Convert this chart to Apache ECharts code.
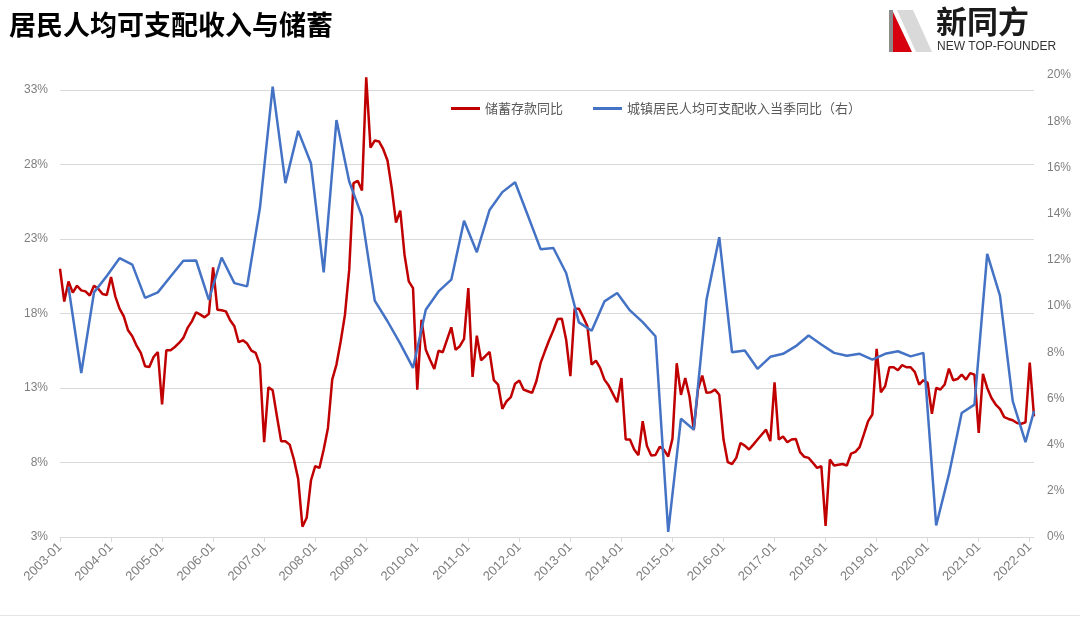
<!DOCTYPE html>
<html>
<head>
<meta charset="utf-8">
<script src="https://cdn.jsdelivr.net/npm/echarts@6/dist/echarts.min.js"></script>
<style>
html,body{margin:0;padding:0;background:#fff;}
#chart{width:1080px;height:617px;}
</style>
</head>
<body>
<div id="chart"></div>
<script>
// ---- DATA ----
var chartTitle = '居民人均可支配收入与储蓄';
var seriesNames = ['储蓄存款同比', '城镇居民人均可支配收入当季同比（右）'];
var startYear = 2003, endYear = 2022, endMonth = 2; // monthly axis 2003-01 .. 2022-02

// 储蓄存款同比 (%), monthly from 2003-01
var depositYoY = [
  21.0, 18.8, 20.15, 19.4, 19.86, 19.55, 19.48, 19.2, 19.86, 19.66, 19.3, 19.24,
  20.44, 19.15, 18.32, 17.8, 16.87, 16.47, 15.84, 15.35, 14.46, 14.41, 15.08, 15.4,
  11.89, 15.53, 15.53, 15.75, 16.02, 16.36, 17.03, 17.47, 18.08, 17.92, 17.74, 17.97,
  21.09, 18.25, 18.21, 18.14, 17.54, 17.14, 16.07, 16.2, 15.98, 15.5, 15.35, 14.57,
  9.36, 13.05, 12.85, 11.1, 9.43, 9.43, 9.2, 8.2, 6.9, 3.69, 4.29, 6.79,
  7.75, 7.64, 8.87, 10.32, 13.56, 14.57, 16.13, 17.92, 20.94, 26.74, 26.9, 26.25,
  33.85, 29.13, 29.6, 29.54, 29.02, 28.26, 26.4, 24.1, 24.9, 21.94, 20.15, 19.7,
  12.89, 17.58, 15.57, 14.9, 14.28, 15.5, 15.4, 16.24, 17.07, 15.57, 15.8, 16.29,
  19.7, 13.74, 16.51, 14.86, 15.13, 15.42, 13.52, 13.23, 11.6, 12.11, 12.38, 13.29,
  13.5, 12.89, 12.78, 12.67, 13.45, 14.68, 15.46, 16.2, 16.87, 17.63, 17.65, 16.24,
  13.79, 18.32, 18.32, 17.76, 17.14, 14.57, 14.84, 14.35, 13.56, 13.16, 12.6, 12.04,
  13.67, 9.54, 9.54, 8.87, 8.49, 10.77, 9.1, 8.47, 8.5, 9.05, 8.85, 8.4,
  9.6, 14.66, 12.54, 13.67, 12.43, 10.17, 12.9, 13.83, 12.67, 12.71, 12.89, 12.54,
  9.54, 8.02, 7.9, 8.31, 9.31, 9.13, 8.87, 9.2, 9.54, 9.88, 10.2, 9.43,
  13.38, 9.54, 9.75, 9.36, 9.54, 9.58, 8.7, 8.38, 8.31, 7.98, 7.64, 7.75,
  3.74, 8.2, 7.8, 7.85, 7.9, 7.8, 8.6, 8.71, 9.03, 9.88, 10.77, 11.22,
  15.62, 12.71, 13.12, 14.39, 14.39, 14.19, 14.53, 14.39, 14.39, 14.06, 13.23, 13.52,
  13.34, 11.26, 13.0, 12.9, 13.23, 14.3, 13.52, 13.6, 13.9, 13.56, 14.0, 13.9,
  9.99, 13.95, 13.0, 12.33, 11.89, 11.6, 11.04, 10.92, 10.83, 10.65, 10.6, 10.69,
  14.71, 11.1
];

// 城镇居民人均可支配收入当季同比 (%), quarterly
var incomeMonths = [
  '2003-03','2003-06','2003-09','2003-12','2004-03','2004-06','2004-09','2004-12',
  '2005-03','2005-06','2005-09','2005-12','2006-03','2006-06','2006-09','2006-12',
  '2007-03','2007-06','2007-09','2007-12','2008-03','2008-06','2008-09','2008-12',
  '2009-03','2009-06','2009-09','2009-12','2010-03','2010-06','2010-09','2010-12',
  '2011-03','2011-06','2011-09','2011-12','2012-03','2012-06','2012-09','2012-12',
  '2013-03','2013-06','2013-09','2013-12','2014-03','2014-06','2014-09','2014-12',
  '2015-03','2015-06','2015-09','2015-12','2016-03','2016-06','2016-09','2016-12',
  '2017-03','2017-06','2017-09','2017-12','2018-03','2018-06','2018-09','2018-12',
  '2019-03','2019-06','2019-09','2019-12','2020-03','2020-06','2020-09','2020-12',
  '2021-03','2021-06','2021-09','2021-12','2022-02'
];
var incomeYoY = [
  10.82, 7.1, 10.59, 11.3, 12.07, 11.79, 10.35, 10.59,
  11.28, 11.96, 11.97, 10.27, 12.1, 10.99, 10.85, 14.24,
  19.5, 15.32, 17.58, 16.18, 11.46, 18.05, 15.39, 13.88,
  10.23, 9.34, 8.37, 7.32, 9.84, 10.63, 11.14, 13.69,
  12.33, 14.16, 14.93, 15.36, 13.92, 12.46, 12.51, 11.43,
  9.29, 8.93, 10.2, 10.56, 9.81, 9.3, 8.69, 0.22,
  5.12, 4.65, 10.27, 12.98, 8.0, 8.07, 7.28, 7.8,
  7.93, 8.26, 8.72, 8.33, 7.97, 7.85, 7.93, 7.68,
  7.93, 8.04, 7.82, 7.97, 0.5, 2.71, 5.37, 5.73,
  12.26, 10.45, 5.88, 4.11, 5.45
];

// axis settings
var leftAxisMin = 3, leftAxisMax = 34, leftAxisStep = 5;
var rightAxisMin = 0, rightAxisMax = 20, rightAxisStep = 2;

// ---- BUILD ----
var months = [];
for (var y = startYear; y <= endYear; y++) {
  for (var m = 1; m <= 12; m++) {
    if (y === endYear && m > endMonth) break;
    months.push(y + '-' + (m < 10 ? '0' + m : m));
  }
}
var incomeData = incomeMonths.map(function (mm, k) { return [mm, incomeYoY[k]]; });

var chart = echarts.init(document.getElementById('chart'), null, {renderer: 'canvas'});
var labelColor = '#7f7f7f';
var baseFont = 'Liberation Sans, Noto Sans CJK SC, sans-serif';

chart.setOption({
  animation: false,
  backgroundColor: '#ffffff',
  title: {
    text: chartTitle,
    left: 4,
    top: 6,
    textStyle: {fontSize: 27, fontWeight: 'bold', color: '#000', fontFamily: 'Noto Sans CJK SC'}
  },
  legend: {
    left: 446,
    top: 97,
    icon: 'rect',
    itemWidth: 29,
    itemHeight: 3,
    itemGap: 30,
    textStyle: {fontSize: 13, color: '#595959', fontFamily: 'Noto Sans CJK SC'},
    data: seriesNames
  },
  grid: {left: 60, right: 46, top: 75, bottom: 80, containLabel: false},
  xAxis: {
    type: 'category',
    boundaryGap: false,
    data: months,
    axisLine: {lineStyle: {color: '#d9d9d9', width: 1}},
    axisTick: {show: true, interval: 11, length: 5, lineStyle: {color: '#d9d9d9'}},
    axisLabel: {interval: 11, rotate: 45, color: labelColor, fontSize: 13, margin: 8, fontFamily: baseFont},
    splitLine: {show: false}
  },
  yAxis: [
    {
      type: 'value',
      min: leftAxisMin, max: leftAxisMax, interval: leftAxisStep,
      axisLine: {show: false}, axisTick: {show: false},
      axisLabel: {formatter: '{value}%', color: labelColor, fontSize: 12, margin: 12, showMaxLabel: false, fontFamily: baseFont},
      splitLine: {show: true, showMaxLine: false, showMinLine: false, lineStyle: {color: '#d9d9d9', width: 1}}
    },
    {
      type: 'value',
      min: rightAxisMin, max: rightAxisMax, interval: rightAxisStep,
      position: 'right',
      axisLine: {show: false}, axisTick: {show: false},
      axisLabel: {formatter: '{value}%', color: labelColor, fontSize: 12, margin: 13, fontFamily: baseFont},
      splitLine: {show: false}
    }
  ],
  series: [
    {
      name: seriesNames[0],
      type: 'line',
      yAxisIndex: 0,
      data: depositYoY,
      showSymbol: false,
      symbol: 'none',
      lineStyle: {color: '#c00000', width: 2.5},
      itemStyle: {color: '#c00000'}
    },
    {
      name: seriesNames[1],
      type: 'line',
      yAxisIndex: 1,
      data: incomeData,
      showSymbol: false,
      symbol: 'none',
      lineStyle: {color: '#4472c4', width: 2.5},
      itemStyle: {color: '#4472c4'}
    }
  ],
  graphic: [
    // logo shapes
    {type: 'rect', shape: {x: 889, y: 10, width: 4, height: 42}, style: {fill: '#8c8c8c'}},
    {type: 'polygon', shape: {points: [[893, 12], [893, 52], [912, 52]]}, style: {fill: '#d7000f'}},
    {type: 'polygon', shape: {points: [[897, 10], [913, 10], [932, 52], [916, 52]]}, style: {fill: '#d9d9d9'}},
    {type: 'text', left: 936, top: 6, style: {text: '新同方', font: 'bold 31px "Noto Sans CJK SC"', fill: '#1a1a1a'}},
    {type: 'text', left: 937, top: 41, style: {text: 'NEW TOP-FOUNDER', font: '12px "Liberation Sans Narrow", "Liberation Sans", sans-serif', fill: '#333'}},
    // bottom border
    {type: 'rect', shape: {x: 0, y: 615, width: 1080, height: 1}, style: {fill: '#e6e6e6'}}
  ]
});
</script>
</body>
</html>
